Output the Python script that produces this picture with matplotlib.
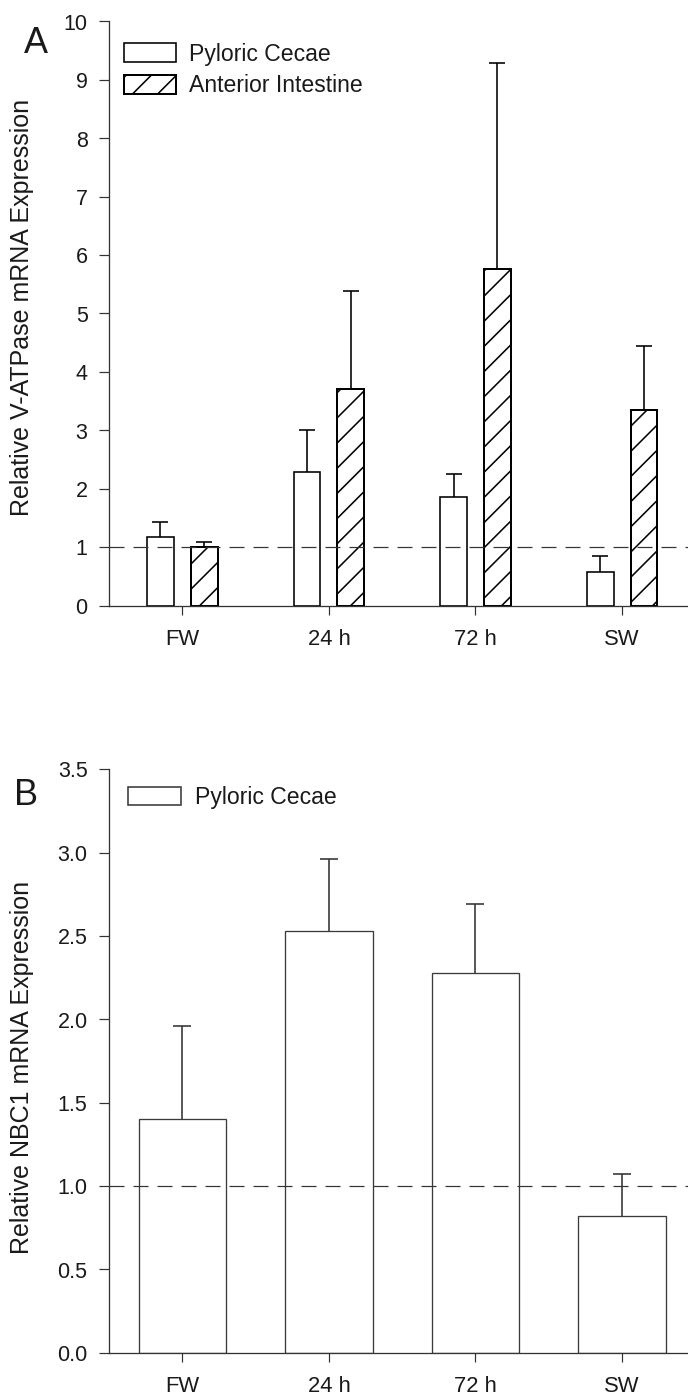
import matplotlib
matplotlib.use("Agg")
import matplotlib.pyplot as plt
import numpy as np

plt.rcParams['font.family'] = ['Liberation Sans', 'DejaVu Sans']
plt.rcParams['hatch.linewidth'] = 0.75
plt.rcParams['hatch.color'] = 'black'
plt.rcParams['lines.scale_dashes'] = False

# sampling groups
groups = ['FW', '24 h', '72 h', 'SW']

# panel A: V-ATPase (mean, SEM)
pc_vatp = [1.17, 2.29, 1.86, 0.57]
pc_vatp_err = [0.26, 0.71, 0.39, 0.27]
ai_vatp = [1.00, 3.71, 5.76, 3.34]
ai_vatp_err = [0.085, 1.68, 3.52, 1.11]

# panel B: NBC1 (mean, SEM)
pc_nbc = [1.40, 2.53, 2.28, 0.82]
pc_nbc_err = [0.56, 0.43, 0.41, 0.25]

DPI = 151
W, H = 688, 1397
fig = plt.figure(figsize=((W + 0.3) / DPI, (H + 0.3) / DPI), dpi=DPI)

def px(v):
    # pixels -> points
    return v * 72.0 / DPI

TXT = '#1a1a1a'
SPINE = '#333333'
left = 109 / W
width = (695 - 109) / W
axA = fig.add_axes([left, 1 - 605.7 / H, width, (605.7 - 21.7) / H])
axB = fig.add_axes([left, 1 - 1352.7 / H, width, (1352.7 - 769.3) / H])

x = np.arange(len(groups))


def style(ax):
    for s in ['top', 'right']:
        ax.spines[s].set_visible(False)
    for s in ['left', 'bottom']:
        ax.spines[s].set_color(SPINE)
        ax.spines[s].set_linewidth(px(1.3))
    ax.set_xlim(-0.5, 3.5)
    ax.set_xticks(x)
    ax.set_xticklabels(groups)
    ax.tick_params(axis='y', direction='out', length=px(10.5), width=px(1.2),
                   colors=SPINE, labelcolor=TXT, labelsize=px(21.5), pad=px(11))
    ax.tick_params(axis='x', direction='out', length=px(9), width=px(1.2),
                   colors=SPINE, labelcolor=TXT, labelsize=px(22), pad=px(14))
    ax.axhline(1.0, color='#333333', lw=px(1.2), dashes=(px(15), px(9)), zorder=3)


def upper_err(ax, xs, means, errs, color, cap):
    # one-sided (upper) error bars
    eb = ax.errorbar(xs, means, yerr=[np.zeros(len(means)), errs], fmt='none',
                     ecolor=color, elinewidth=px(1.6), capsize=px(cap),
                     capthick=px(1.6), zorder=1)
    eb[1][0].set_visible(False)
    return eb


# ---- A ----
w = 0.182
off = 0.149
axA.bar(x - off, pc_vatp, w, color='white', edgecolor='black', lw=px(1.6),
        label='Pyloric Cecae', zorder=2)
axA.bar(x + off, ai_vatp, w, color='white', edgecolor='black', lw=px(2.0),
        hatch='//', label='Anterior Intestine', zorder=2)
upper_err(axA, x - off, pc_vatp, pc_vatp_err, 'black', 8)
upper_err(axA, x + off, ai_vatp, ai_vatp_err, 'black', 8)
axA.set_ylim(0, 10)
axA.set_yticks(range(0, 11))
style(axA)
axA.set_ylabel('Relative V-ATPase mRNA Expression', fontsize=px(25), color=TXT)
axA.yaxis.set_label_coords(-0.128, 0.51)
legA = axA.legend(loc='upper left', bbox_to_anchor=((124 - 109) / 586, (605.7 - 42.7) / 584),
                  frameon=False, fontsize=px(23), handlelength=2.26, handleheight=0.9,
                  handletextpad=0.57, labelspacing=0.38, borderpad=0, borderaxespad=0)
for t in legA.get_texts():
    t.set_color(TXT)

# ---- B ----
axB.bar(x, pc_nbc, 0.598, color='white', edgecolor='#3a3a3a', lw=px(1.3),
        label='Pyloric Cecae', zorder=2)
upper_err(axB, x, pc_nbc, pc_nbc_err, '#333333', 9)
axB.set_ylim(0, 3.5)
axB.set_yticks(np.arange(0, 3.51, 0.5))
axB.set_yticklabels([f'{v:.1f}' for v in np.arange(0, 3.51, 0.5)])
style(axB)
axB.set_ylabel('Relative NBC1 mRNA Expression', fontsize=px(25), color=TXT)
axB.yaxis.set_label_coords(-0.128, 0.49)
legB = axB.legend(loc='upper left', bbox_to_anchor=((128.3 - 109) / 586, (1352.7 - 786) / 583.4),
                  frameon=False, fontsize=px(23), handlelength=2.29, handleheight=0.87,
                  handletextpad=0.6, borderpad=0, borderaxespad=0)
for t in legB.get_texts():
    t.set_color(TXT)
for p in legB.get_patches():
    p.set_linewidth(px(1.6))

fig.text(24 / W, 1 - 43.5 / H, 'A', fontsize=px(36), color=TXT, ha='left', va='center')
fig.text(14 / W, 1 - 795.5 / H, 'B', fontsize=px(36), color=TXT, ha='left', va='center')

fig.savefig('out.png', dpi=DPI)
